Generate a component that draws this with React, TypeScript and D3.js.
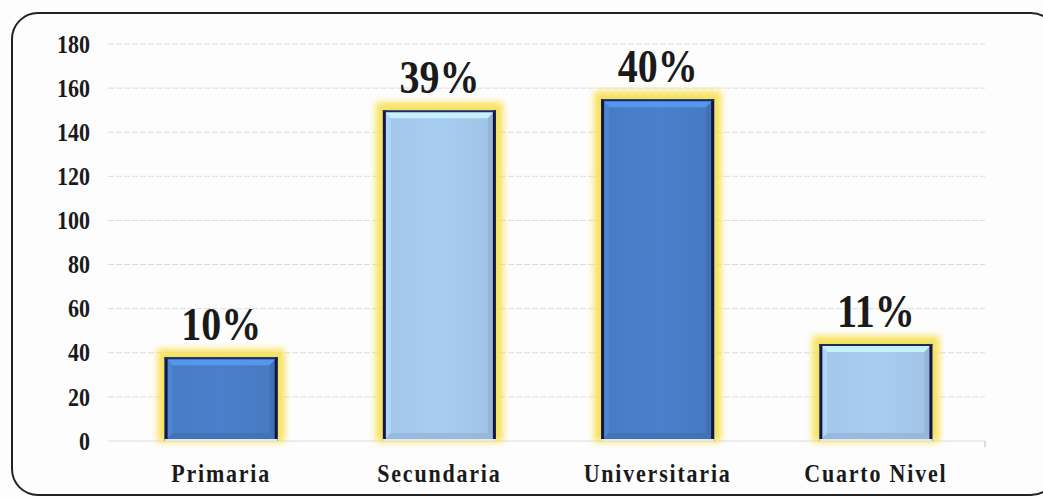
import React from "react";
import * as d3 from "d3";

const categories = ["Primaria", "Secundaria", "Universitaria", "Cuarto Nivel"];
const values = [38, 150, 155, 44];
const percentLabels = ["10%", "39%", "40%", "11%"];
const yTicks = [0, 20, 40, 60, 80, 100, 120, 140, 160, 180];
const barColors = ["#4a80cb", "#a8cdf2", "#4a80cb", "#a8cdf2"];

const W = 1043;
const H = 497;
const margin = { left: 108, right: 58, top: 44, bottom: 56 };

export default function App() {
  const x = d3
    .scaleBand<string>()
    .domain(categories)
    .range([112, W - margin.right])
    .paddingInner(0.482)
    .paddingOuter(0.241);
  const y = d3.scaleLinear().domain([0, 180]).range([H - margin.bottom, margin.top]);
  const bw = x.bandwidth();
  const b = 8;

  const lighten = (c: string, k: number) => d3.color(c)!.brighter(k).formatHex();
  const darken = (c: string, k: number) => d3.color(c)!.darker(k).formatHex();

  return (
    <svg
      width={W}
      height={H}
      style={{ position: "absolute", left: 0, top: 0, background: "#ffffff" }}
      fontFamily="'Liberation Serif', 'Times New Roman', serif"
    >
      <defs>
        <filter id="glow" x="-30%" y="-30%" width="160%" height="160%">
          <feGaussianBlur stdDeviation="3.5" />
        </filter>
        {categories.map((c, i) => (
          <linearGradient key={c} id={`g${i}`} x1="0" y1="0" x2="1" y2="0">
            <stop offset="0" stopColor={darken(barColors[i], 0.1)} />
            <stop offset="0.5" stopColor={barColors[i]} />
            <stop offset="1" stopColor={darken(barColors[i], 0.15)} />
          </linearGradient>
        ))}
      </defs>
      <rect x={0} y={0} width={W} height={H} fill="#fdfdfd" />
      <rect
        x={12}
        y={13}
        width={1045}
        height={482}
        rx={26}
        ry={26}
        fill="#fdfdfe"
        stroke="#222"
        strokeWidth={2}
      />
      {/* grid */}
      {yTicks.map((t) => (
        <line
          key={t}
          x1={margin.left}
          x2={W - margin.right}
          y1={y(t)}
          y2={y(t)}
          stroke="#dcdcdc"
          strokeWidth={1}
          strokeDasharray={t === 0 ? undefined : "6 2"}
        />
      ))}
      <line
        x1={W - margin.right}
        x2={W - margin.right}
        y1={y(0)}
        y2={y(0) + 6}
        stroke="#bbb"
      />
      {/* y labels */}
      {yTicks.map((t) => (
        <text
          key={t}
          x={0}
          y={0}
          transform={`translate(90, ${y(t)}) scale(1,1.18)`}
          textAnchor="end"
          dominantBaseline="central"
          fontSize={22}
          fontWeight="bold"
          fill="#1a1a1a"
        >
          {t}
        </text>
      ))}
      {/* bars */}
      {categories.map((c, i) => {
        const x0 = x(c)!;
        const y0 = y(values[i]);
        const y1 = y(0);
        const h = y1 - y0;
        const col = barColors[i];
        return (
          <g key={c}>
            <rect
              x={x0 - 7}
              y={y0 - 8}
              width={bw + 14}
              height={h + 9}
              fill="#f7e050"
              filter="url(#glow)"
              opacity={0.95}
            />
            <rect x={x0} y={y0} width={bw} height={h} fill={`url(#g${i})`} />
            {/* bevels */}
            <polygon
              points={`${x0},${y0} ${x0 + bw},${y0} ${x0 + bw - b},${y0 + b} ${x0 + b},${y0 + b}`}
              fill={lighten(col, 0.5)}
              opacity={0.9}
            />
            <polygon
              points={`${x0},${y0} ${x0 + b},${y0 + b} ${x0 + b},${y1 - b} ${x0},${y1}`}
              fill={lighten(col, 0.15)}
              opacity={0.8}
            />
            <polygon
              points={`${x0 + bw},${y0} ${x0 + bw},${y1} ${x0 + bw - b},${y1 - b} ${x0 + bw - b},${y0 + b}`}
              fill={darken(col, 0.4)}
              opacity={0.8}
            />
            <polygon
              points={`${x0},${y1} ${x0 + b},${y1 - b} ${x0 + bw - b},${y1 - b} ${x0 + bw},${y1}`}
              fill={darken(col, 0.35)}
              opacity={0.8}
            />
            <line x1={x0 + 1.5} x2={x0 + 1.5} y1={y0} y2={y1} stroke="#151540" strokeWidth={3} />
            <line x1={x0 + bw - 1.5} x2={x0 + bw - 1.5} y1={y0} y2={y1} stroke="#151540" strokeWidth={3} />
            <line x1={x0} x2={x0 + bw} y1={y0 + 1} y2={y0 + 1} stroke="#1d2a60" strokeWidth={2} />
            <line x1={x0} x2={x0 + bw} y1={y1 - 1} y2={y1 - 1} stroke="#dfe9f8" strokeWidth={2} />
            <text
              x={0}
              y={0}
              transform={`translate(${x0 + bw / 2}, ${y0 - 17}) scale(1,1.18)`}
              textAnchor="middle"
              fontSize={40}
              fontWeight="bold"
              fill="#1a1a1a"
            >
              {percentLabels[i]}
            </text>
            <text
              x={0}
              y={0}
              transform={`translate(${x0 + bw / 2}, ${y1 + 41}) scale(1,1.18)`}
              textAnchor="middle"
              fontSize={22}
              fontWeight="bold"
              letterSpacing={1.8}
              fill="#1a1a1a"
            >
              {c}
            </text>
          </g>
        );
      })}
    </svg>
  );
}
